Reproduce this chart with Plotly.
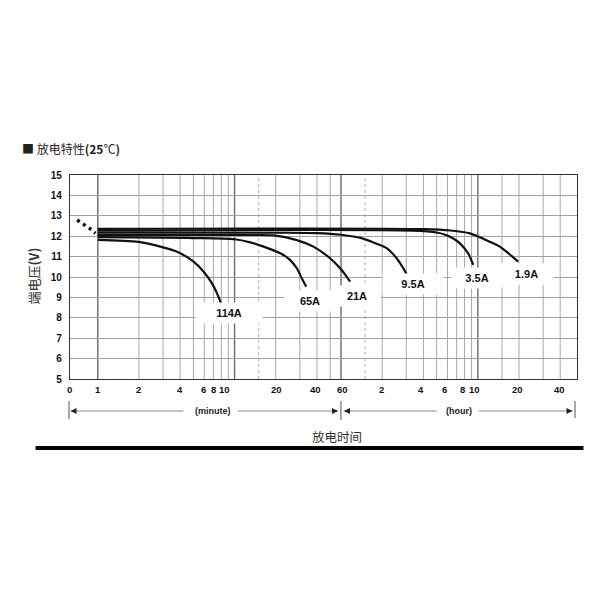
import math
import plotly.graph_objects as go

# ---------------- data (minutes, volts) ----------------
t_114 = [1, 2, 2.87, 3.8, 5.02, 5.94, 6.84, 7.44, 8.0]
v_114 = [11.82, 11.72, 11.49, 11.24, 10.75, 10.26, 9.69, 9.20, 8.66]
t_65 = [1, 5, 10, 13, 16.3, 21.6, 25.5, 28.5, 31, 33.4]
v_65 = [11.95, 11.91, 11.85, 11.70, 11.49, 11.16, 10.83, 10.43, 9.94, 9.52]
t_21 = [1, 8, 14, 19.3, 28.5, 37.7, 49.9, 59.1, 66.1, 69.9]
v_21 = [12.06, 12.06, 12.06, 12.04, 11.81, 11.49, 10.92, 10.43, 10.01, 9.77]
t_95 = [1, 20, 40, 60, 87, 110, 130, 153, 171, 181]
v_95 = [12.17, 12.17, 12.15, 12.07, 11.88, 11.62, 11.40, 10.92, 10.43, 10.13]
t_35 = [1, 200, 300, 355, 397, 444, 510, 555]
v_35 = [12.27, 12.27, 12.18, 12.05, 11.89, 11.65, 11.16, 10.59]
t_19 = [1, 240, 380, 525, 735, 869, 973, 1183]
v_19 = [12.36, 12.35, 12.28, 12.14, 11.73, 11.49, 11.24, 10.75]
t_start = [0.707, 0.769, 0.837, 0.910, 0.962]
v_start = [12.79, 12.63, 12.47, 12.30, 12.14]

curve_names = ["114A", "65A", "21A", "9.5A", "3.5A", "1.9A"]
curve_t = [t_114, t_65, t_21, t_95, t_35, t_19]
curve_v = [v_114, v_65, v_21, v_95, v_35, v_19]

# curve label anchor (minutes, volts) and box size (px)
label_t = [9.04, 35.7, 78.2, 202.6, 590, 1362]
label_v = [8.22, 8.82, 9.07, 9.66, 9.94, 10.13]
label_w = [64, 48, 44, 58, 48, 51]

# x tick labels and where they sit (minutes)
xtick_text = ["0", "1", "2", "4", "6", "8", "10", "20", "40", "60",
              "2", "4", "6", "8", "10", "20", "40"]
xtick_pos = [0.624, 1, 2, 4, 5.9, 7.0, 8.4, 20.4, 38.8, 62,
             119, 230, 342, 462, 571, 1178, 2355]

# vertical grid (minutes)
grid_minor = [2, 3, 4, 5, 6, 7, 8, 9, 20, 30, 40, 50,
              120, 180, 240, 300, 360, 420, 480, 540, 900, 1200, 1800, 2400]
grid_major = [1, 10, 60, 600]
grid_dotted = [15, 90]

OFF = 8  # page body margin
XMIN, XMAX = -0.203, 3.503
PW, PH = 508, 204
L = 69.5 - OFF
T = 175 - OFF
R = 600 - L - PW
B = 600 - T - PH


def px2paper_x(px):
    return (px - OFF - L) / PW


def px2paper_y(py):
    return (T + PH - (py - OFF)) / PH


def t2paper(t):
    return (math.log10(t) - XMIN) / (XMAX - XMIN)


fig = go.Figure()

for name, tt, vv in zip(curve_names, curve_t, curve_v):
    fig.add_trace(go.Scatter(x=tt, y=vv, mode="lines", name=name,
                             line=dict(color="#111111", width=2.2, shape="spline", smoothing=0.8),
                             showlegend=False, hoverinfo="skip"))

fig.add_trace(go.Scatter(x=t_start, y=v_start, mode="lines",
                         line=dict(color="#111111", width=3.5, dash="3px,4px"),
                         showlegend=False, hoverinfo="skip"))

shapes = []
for g in grid_minor:
    xp = t2paper(g)
    shapes.append(dict(type="line", xref="paper", yref="paper", x0=xp, x1=xp, y0=0, y1=1,
                       line=dict(color="#a8a8a8", width=1), layer="below"))
for g in grid_dotted:
    xp = t2paper(g)
    shapes.append(dict(type="line", xref="paper", yref="paper", x0=xp, x1=xp, y0=0, y1=1,
                       line=dict(color="#b0b0b0", width=1, dash="dot"), layer="below"))
for g in grid_major:
    xp = t2paper(g)
    shapes.append(dict(type="line", xref="paper", yref="paper", x0=xp, x1=xp, y0=0, y1=1,
                       line=dict(color="#6a6a6a", width=1.4), layer="below"))

# arrow row below axis
ya = px2paper_y(411)
gray = "#8a8a8a"
for (a, b) in [(70, 183), (238, 338), (344, 437), (479, 573)]:
    shapes.append(dict(type="line", xref="paper", yref="paper",
                       x0=px2paper_x(a), x1=px2paper_x(b), y0=ya, y1=ya,
                       line=dict(color=gray, width=1)))
for (xx, y0, y1) in [(68.5, 401, 419), (341, 401, 420), (575.5, 401, 418)]:
    shapes.append(dict(type="line", xref="paper", yref="paper",
                       x0=px2paper_x(xx), x1=px2paper_x(xx), y0=px2paper_y(y1), y1=px2paper_y(y0),
                       line=dict(color="#555555", width=1)))
# bottom rule
shapes.append(dict(type="line", xref="paper", yref="paper",
                   x0=px2paper_x(35), x1=px2paper_x(584), y0=px2paper_y(448), y1=px2paper_y(448),
                   line=dict(color="#000000", width=4)))

annotations = []
for name, lt, lv, lw in zip(curve_names, label_t, label_v, label_w):
    annotations.append(dict(x=math.log10(lt), y=lv, xref="x", yref="y", text="<b>%s</b>" % name,
                            xanchor="center", yanchor="middle",
                            showarrow=False, bgcolor="white", width=lw, height=18, borderpad=1,
                            font=dict(family="Liberation Sans", size=11, color="#111111")))
for txt, pos in zip(xtick_text, xtick_pos):
    annotations.append(dict(x=t2paper(pos), y=px2paper_y(389), xref="paper", yref="paper",
                            xanchor="center", yanchor="middle",
                            text="<b>%s</b>" % txt, showarrow=False,
                            font=dict(family="Liberation Sans", size=9.5, color="#111111")))
# arrowheads
for (xx, d) in [(70, 1), (338, -1), (344, 1), (573, -1)]:
    annotations.append(dict(x=px2paper_x(xx), y=ya, xref="paper", yref="paper", text="",
                            showarrow=True, arrowhead=2, arrowsize=1, arrowwidth=1.2,
                            arrowcolor="#222222", ax=7 * d, ay=0))
annotations.append(dict(x=px2paper_x(213), y=ya, xref="paper", yref="paper", text="<b>(minute)</b>",
                        xanchor="center", yanchor="middle",
                        showarrow=False, font=dict(family="Liberation Sans", size=9, color="#222222")))
annotations.append(dict(x=px2paper_x(459), y=ya, xref="paper", yref="paper", text="<b>(hour)</b>",
                        xanchor="center", yanchor="middle",
                        showarrow=False, font=dict(family="Liberation Sans", size=9, color="#222222")))
# titles
annotations.append(dict(x=px2paper_x(19), y=px2paper_y(148), xref="paper", yref="paper",
                        xanchor="left", yanchor="middle",
                        text="■ 放电特性<b>(25</b>℃<b>)</b>", showarrow=False,
                        font=dict(family="Noto Sans CJK SC", size=12, color="#222222")))
annotations.append(dict(x=px2paper_x(337), y=px2paper_y(436), xref="paper", yref="paper",
                        xanchor="center", yanchor="middle",
                        text="放电时间", showarrow=False,
                        font=dict(family="Noto Sans CJK SC", size=12.5, color="#333333")))
annotations.append(dict(x=px2paper_x(32), y=px2paper_y(276), xref="paper", yref="paper",
                        xanchor="center", yanchor="middle",
                        text="端电压<b>(V)</b>", showarrow=False, textangle=-90,
                        font=dict(family="Noto Sans CJK SC", size=13, color="#333333")))

fig.update_layout(
    width=600, height=600,
    margin=dict(l=L, r=R, t=T, b=B),
    paper_bgcolor="white", plot_bgcolor="white",
    xaxis=dict(type="log", range=[XMIN, XMAX], showgrid=False, zeroline=False,
               showticklabels=False, ticks="", showline=True, mirror=True,
               linecolor="#2a3045", linewidth=1.2),
    yaxis=dict(range=[5, 15], dtick=1, tick0=5, showgrid=True, gridcolor="#a0a0a0", gridwidth=1,
               zeroline=False, showline=True, mirror=True, linecolor="#2a3045", linewidth=1.2,
               ticks="", ticklabelstandoff=5,
               tickfont=dict(family="Liberation Sans", size=10, color="#111111", weight="bold")),
    shapes=shapes, annotations=annotations,
)

fig.write_html("out.html")
